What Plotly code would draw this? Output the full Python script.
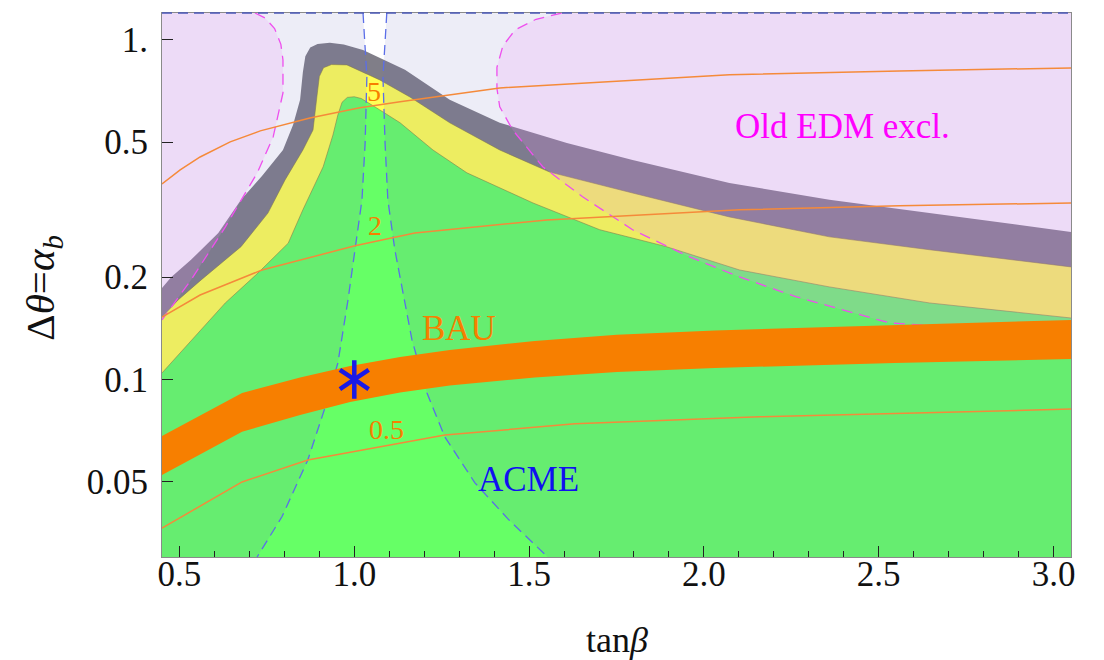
import numpy as np
import plotly.graph_objects as go

# ---------------- axis settings ----------------
X_RANGE = [0.45, 3.05]
Y_RANGE = [0.03, 1.2]
x_ticks = [0.5, 1.0, 1.5, 2.0, 2.5, 3.0]
x_ticktext = ["0.5", "1.0", "1.5", "2.0", "2.5", "3.0"]
y_ticks = [0.05, 0.1, 0.2, 0.5, 1.0]
y_ticktext = ["0.05", "0.1", "0.2", "0.5", "1."]

# ---------------- region boundaries (tanβ, Δθ) ----------------
gray_x = [0.45, 0.476, 0.533, 0.611, 0.676, 0.736, 0.796, 0.825, 0.845, 0.853, 0.860, 0.874,
          0.895, 0.930, 0.970, 1.025, 1.145, 1.273, 1.416, 1.608, 1.796, 2.073, 2.359, 2.645, 3.05]
gray_y = [0.186, 0.200, 0.225, 0.270, 0.338, 0.3975, 0.474, 0.562, 0.666, 0.805, 0.895, 0.950,
          0.972, 0.980, 0.970, 0.934, 0.816, 0.666, 0.570, 0.497, 0.443, 0.379, 0.338, 0.309, 0.272]

yellow_x = [0.45, 0.496, 0.562, 0.676, 0.753, 0.802, 0.853, 0.882, 0.893, 0.900, 0.912, 0.935,
            0.979, 1.073, 1.159, 1.273, 1.416, 1.559, 1.796, 2.073, 2.359, 2.645, 3.05]
yellow_y = [0.1527, 0.1714, 0.1964, 0.246, 0.309, 0.387, 0.474, 0.543, 0.680, 0.780, 0.828, 0.846,
            0.844, 0.762, 0.679, 0.570, 0.474, 0.408, 0.354, 0.301, 0.263, 0.241, 0.2145]

green_x = [0.45, 0.562, 0.631, 0.725, 0.811, 0.853, 0.911, 0.939, 0.953, 0.965, 0.980, 1.000,
           1.020, 1.073, 1.131, 1.225, 1.322, 1.511, 1.702, 1.893, 2.102, 2.359, 2.645, 3.05]
green_y = [0.1045, 0.1398, 0.168, 0.206, 0.252, 0.316, 0.423, 0.525, 0.601, 0.655, 0.677, 0.680,
           0.672, 0.622, 0.570, 0.474, 0.406, 0.331, 0.276, 0.246, 0.2101, 0.1873, 0.168, 0.1517]

# BAU band
bau_x = [0.45, 0.679, 0.845, 0.988, 1.131, 1.273, 1.516, 1.751, 2.031, 2.545, 3.05]
bau_hi = [0.0682, 0.0912, 0.1014, 0.1096, 0.1165, 0.1221, 0.1298, 0.1353, 0.1394, 0.1447, 0.1497]
bau_lo = [0.0523, 0.0701, 0.0786, 0.0858, 0.0916, 0.0960, 0.1014, 0.1052, 0.1081, 0.1118, 0.1149]

# thin contours (labels 5, 2, 0.5)
c5_x = [0.45, 0.502, 0.559, 0.645, 0.731, 0.873, 1.016, 1.131, 1.416, 1.702, 2.073, 2.559, 3.05]
c5_y = [0.3765, 0.414, 0.452, 0.5007, 0.5395, 0.589, 0.631, 0.657, 0.722, 0.752, 0.789, 0.810, 0.827]
c2_x = [0.45, 0.559, 0.736, 1.002, 1.173, 1.551, 2.102, 2.559, 3.05]
c2_y = [0.1527, 0.1773, 0.2101, 0.2475, 0.270, 0.295, 0.316, 0.3245, 0.331]
c05_x = [0.45, 0.679, 0.867, 1.259, 1.631, 2.159, 3.05]
c05_y = [0.0365, 0.0499, 0.0579, 0.0686, 0.0740, 0.0776, 0.0818]

# ACME bounds (dashed blue)
acme_l_x = [1.025, 1.036, 1.031, 1.022, 1.002, 0.982, 0.953, 0.916, 0.867, 0.793, 0.722]
acme_l_y = [1.2, 0.778, 0.497, 0.338, 0.241, 0.1714, 0.1118, 0.0824, 0.0579, 0.0394, 0.030]
acme_r_x = [1.093, 1.082, 1.088, 1.096, 1.116, 1.165, 1.208, 1.259, 1.345, 1.442, 1.553]
acme_r_y = [1.2, 0.778, 0.497, 0.338, 0.241, 0.1307, 0.0912, 0.0677, 0.0496, 0.0386, 0.030]

# old EDM exclusion bounds (dashed magenta)
edm_l_x = [0.716, 0.745, 0.772, 0.790, 0.796, 0.796, 0.768, 0.722, 0.631, 0.533, 0.45]
edm_l_y = [1.2, 1.16, 1.08, 0.97, 0.873, 0.698, 0.518, 0.405, 0.281, 0.1964, 0.1497]
edm_r_x = [1.593, 1.520, 1.460, 1.425, 1.408, 1.408, 1.416, 1.453, 1.539, 1.653, 1.796, 1.959,
           2.102, 2.265, 2.531, 3.05]
edm_r_y = [1.2, 1.15, 1.07, 0.96, 0.83, 0.72, 0.635, 0.543, 0.423, 0.345, 0.276, 0.2295,
           0.2004, 0.175, 0.1467, 0.135]

# benchmark point
star_x = [1.0]
star_y = [0.1]

# text labels
label_text = ["Old EDM excl.", "BAU", "ACME", "5", "2", "0.5"]
label_x = [2.396, 1.299, 1.498, 1.056, 1.059, 1.092]
label_y = [0.556, 0.1413, 0.0506, 0.703, 0.2832, 0.071]
label_color = ["#ff00ff", "#f77f00", "#1010f0", "#f77f00", "#f77f00", "#f77f00"]
label_size = [35, 35, 35, 28, 28, 28]

X0, X1 = X_RANGE
Y0, Y1 = Y_RANGE
SERIF = "Liberation Serif"

fig = go.Figure()


def poly(x, y, color):
    fig.add_trace(go.Scatter(x=x, y=y, mode="lines", fill="toself", fillcolor=color,
                             line=dict(width=0, color=color), hoverinfo="skip", showlegend=False))


def curve(x, y, color, width=1.0, dash=None):
    fig.add_trace(go.Scatter(x=x, y=y, mode="lines",
                             line=dict(color=color, width=width, dash=dash),
                             hoverinfo="skip", showlegend=False))


# nested allowed regions
poly(gray_x + [X1, X0], gray_y + [Y0, Y0], "rgb(128,126,136)")
poly(yellow_x + [X1, X0], yellow_y + [Y0, Y0], "rgb(255,255,85)")
curve(yellow_x, yellow_y, "rgba(130,120,60,0.55)", 1)
poly(green_x + [X1, X0], green_y + [Y0, Y0], "rgb(102,255,102)")
curve(green_x, green_y, "rgba(130,120,60,0.55)", 1)

# ACME excluded shading (outside the two dashed lines)
acme_fill = "rgba(110,110,190,0.12)"
poly([X0, X0] + acme_l_x, [Y0, Y1] + acme_l_y, acme_fill)
poly(acme_r_x + [X1, X1], acme_r_y + [Y0, Y1], acme_fill)

# old EDM excluded shading
edm_fill = "rgba(238,142,250,0.185)"
poly([X0] + edm_l_x, [Y1] + edm_l_y, edm_fill)
poly(edm_r_x + [X1], edm_r_y + [Y1], edm_fill)

# dashed bounds
curve(acme_l_x, acme_l_y, "#5b6ee8", 1.3, "10px,6px")
curve(acme_r_x, acme_r_y, "#5b6ee8", 1.3, "10px,6px")
curve(edm_l_x, edm_l_y, "#ee4fee", 1.3, "11px,7px")
curve(edm_r_x, edm_r_y, "#ee4fee", 1.3, "11px,7px")

# BAU band
poly(bau_x + bau_x[::-1], bau_hi + bau_lo[::-1], "#f77f00")

# thin contours
curve(c5_x, c5_y, "#f58a3a", 1.5)
curve(c2_x, c2_y, "#f58a3a", 1.5)
curve(c05_x, c05_y, "#f58a3a", 1.5)

# benchmark star (six-armed asterisk)
for sym in ["y-up-open", "y-down-open"]:
    fig.add_trace(go.Scatter(x=star_x, y=star_y, mode="markers",
                             marker=dict(symbol=sym, size=24, color="#1a1ae6",
                                         line=dict(width=4.5, color="#1a1ae6")),
                             hoverinfo="skip", showlegend=False))

annotations = []
for t, x, y, c, s in zip(label_text, label_x, label_y, label_color, label_size):
    annotations.append(dict(x=x, y=np.log10(y), xref="x", yref="y", text=t, showarrow=False,
                            font=dict(family=SERIF, size=s, color=c),
                            xanchor="center", yanchor="middle"))

annotations.append(dict(x=0.5, y=-0.1526, xref="paper", yref="paper", text="tan<i>β</i>",
                        showarrow=False, font=dict(family=SERIF, size=36, color="#111"),
                        xanchor="center", yanchor="middle"))
annotations.append(dict(x=-0.131, y=0.495, xref="paper", yref="paper",
                        text="Δ<i>θ</i>=<i>α</i><sub><i>b</i></sub>", textangle=-90,
                        showarrow=False, font=dict(family=SERIF, size=41, color="#111"),
                        xanchor="center", yanchor="middle"))

fig.update_layout(
    width=1104, height=660,
    margin=dict(l=162, r=33, t=13, b=103),
    paper_bgcolor="white", plot_bgcolor="white",
    showlegend=False,
    font=dict(family=SERIF),
    annotations=annotations,
    shapes=[dict(type="line", xref="paper", yref="paper", x0=0, x1=1, y0=1, y1=1,
                 line=dict(color="#4a58b8", width=1.3, dash="10px,6px"), layer="above")],
    xaxis=dict(range=X_RANGE, tickmode="array", tickvals=x_ticks, ticktext=x_ticktext,
               ticks="inside", ticklen=11, tickwidth=1, tickcolor="#222",
               minor=dict(tickmode="linear", tick0=0, dtick=0.1, ticks="inside",
                          ticklen=6, tickwidth=1, tickcolor="#222"),
               showgrid=False, zeroline=False, showline=True, mirror=True,
               linecolor="#8a8a8a", linewidth=1, ticklabelstandoff=-14,
               tickfont=dict(family=SERIF, size=35, color="#111")),
    yaxis=dict(type="log", range=[np.log10(Y0), np.log10(Y1)], tickmode="array",
               tickvals=y_ticks, ticktext=y_ticktext,
               ticks="inside", ticklen=11, tickwidth=1, tickcolor="#222",
               showgrid=False, zeroline=False, showline=True, mirror=True,
               linecolor="#8a8a8a", linewidth=1, ticklabelstandoff=6,
               tickfont=dict(family=SERIF, size=35, color="#111")),
)

fig.write_html("out.html")
